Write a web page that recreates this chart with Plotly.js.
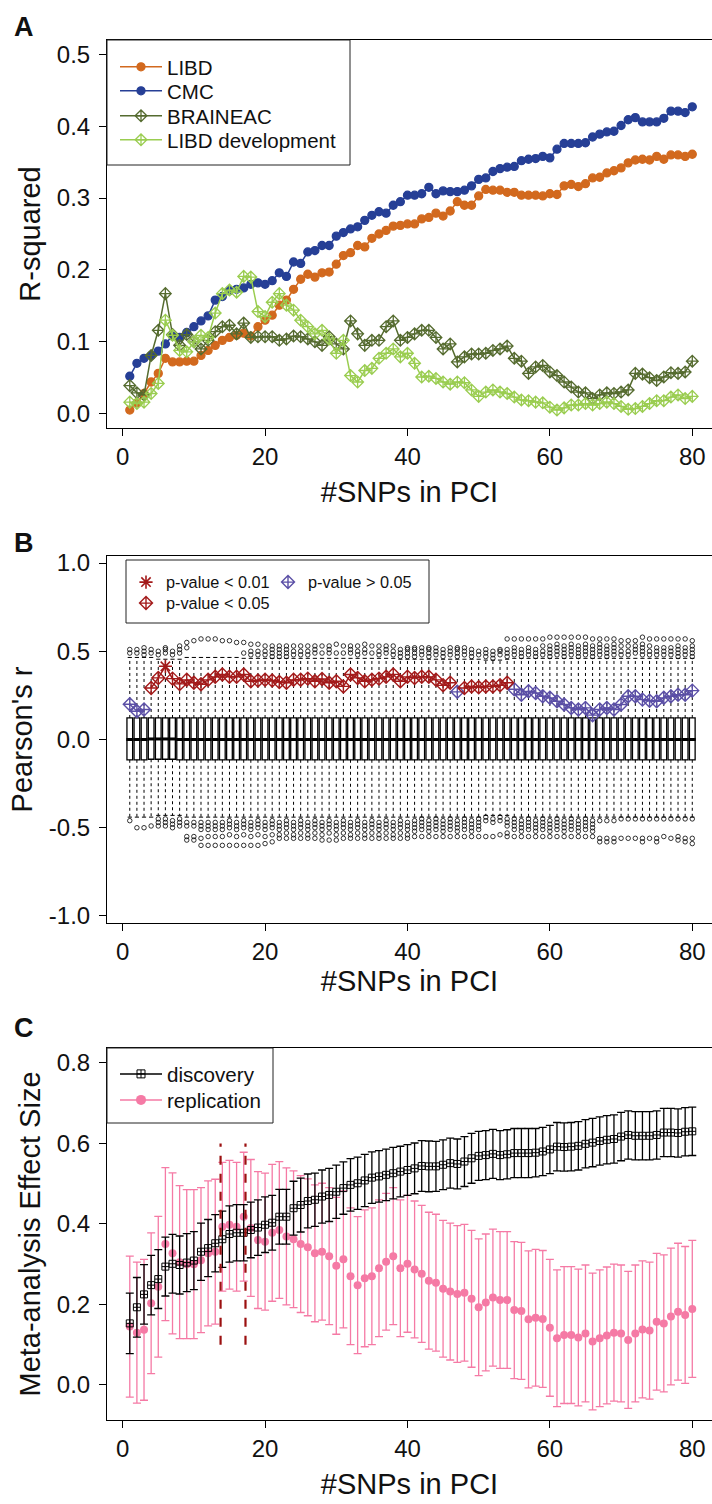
<!DOCTYPE html>
<html><head><meta charset="utf-8">
<script src="https://cdn.plot.ly/plotly-3.0.1.min.js"></script>
<style>html,body{margin:0;padding:0;background:#fff}</style>
</head><body><div id="chart" style="width:712px;height:1504px"></div>
<script>
// ---------- shared x categories ----------
const snps = [1,2,3,4,5,6,7,8,9,10,11,12,13,14,15,16,17,18,19,20,21,22,23,24,25,26,27,28,29,30,31,32,33,34,35,36,37,38,39,40,41,42,43,44,45,46,47,48,49,50,51,52,53,54,55,56,57,58,59,60,61,62,63,64,65,66,67,68,69,70,71,72,73,74,75,76,77,78,79,80];
const xTicks = [0,20,40,60,80];

// ---------- Panel A: R-squared ----------
const seriesNamesA = ["LIBD","CMC","BRAINEAC","LIBD development"];
const libd = [0.005,0.015,0.028,0.044,0.056,0.077,0.072,0.072,0.073,0.073,0.081,0.088,0.095,0.102,0.106,0.109,0.112,0.108,0.121,0.130,0.137,0.151,0.158,0.173,0.187,0.194,0.190,0.196,0.197,0.208,0.220,0.224,0.234,0.232,0.244,0.250,0.255,0.261,0.262,0.264,0.264,0.271,0.273,0.279,0.275,0.282,0.295,0.290,0.290,0.303,0.312,0.311,0.311,0.308,0.308,0.304,0.304,0.304,0.303,0.306,0.305,0.317,0.319,0.316,0.320,0.328,0.329,0.335,0.338,0.342,0.349,0.353,0.354,0.353,0.358,0.354,0.360,0.360,0.358,0.361];
const cmc = [0.052,0.070,0.077,0.081,0.087,0.097,0.108,0.106,0.113,0.121,0.129,0.136,0.158,0.163,0.171,0.173,0.175,0.180,0.182,0.180,0.185,0.196,0.191,0.211,0.209,0.225,0.227,0.234,0.234,0.247,0.252,0.257,0.260,0.269,0.276,0.281,0.279,0.290,0.295,0.304,0.304,0.306,0.315,0.306,0.310,0.309,0.309,0.311,0.317,0.326,0.328,0.337,0.341,0.343,0.344,0.352,0.354,0.355,0.358,0.356,0.368,0.376,0.376,0.376,0.377,0.385,0.389,0.392,0.393,0.401,0.409,0.412,0.406,0.406,0.406,0.411,0.421,0.421,0.419,0.427];
const braineac = [0.039,0.029,0.026,0.081,0.116,0.167,0.110,0.095,0.110,0.100,0.090,0.102,0.114,0.121,0.123,0.111,0.126,0.106,0.107,0.107,0.107,0.102,0.104,0.108,0.107,0.104,0.100,0.095,0.107,0.097,0.090,0.129,0.111,0.095,0.102,0.102,0.121,0.129,0.102,0.106,0.111,0.116,0.116,0.106,0.090,0.097,0.072,0.079,0.083,0.083,0.084,0.088,0.090,0.094,0.077,0.073,0.056,0.065,0.067,0.058,0.053,0.044,0.037,0.030,0.029,0.021,0.026,0.029,0.028,0.030,0.033,0.056,0.055,0.050,0.046,0.051,0.057,0.056,0.058,0.073];
const libdDev = [0.016,0.014,0.016,0.028,0.042,0.130,0.109,0.088,0.086,0.100,0.109,0.106,0.140,0.167,0.172,0.169,0.191,0.190,0.142,0.135,0.155,0.167,0.151,0.144,0.130,0.121,0.111,0.116,0.104,0.084,0.102,0.053,0.044,0.060,0.063,0.077,0.084,0.090,0.079,0.084,0.070,0.051,0.052,0.049,0.044,0.041,0.044,0.043,0.033,0.024,0.030,0.033,0.030,0.028,0.023,0.019,0.018,0.016,0.015,0.009,0.005,0.008,0.012,0.012,0.014,0.012,0.014,0.016,0.014,0.010,0.006,0.007,0.010,0.014,0.018,0.018,0.023,0.026,0.021,0.024];

// ---------- Panel B: Pearson's r ----------
const rObs = [0.200,0.160,0.170,0.292,0.349,0.415,0.345,0.315,0.338,0.322,0.313,0.338,0.355,0.368,0.355,0.355,0.368,0.330,0.334,0.338,0.334,0.326,0.322,0.338,0.338,0.345,0.330,0.343,0.322,0.330,0.301,0.368,0.349,0.330,0.338,0.345,0.355,0.369,0.330,0.355,0.349,0.355,0.355,0.338,0.307,0.322,0.270,0.292,0.301,0.296,0.301,0.301,0.307,0.322,0.285,0.254,0.273,0.264,0.245,0.236,0.217,0.198,0.179,0.170,0.179,0.138,0.170,0.179,0.170,0.198,0.245,0.245,0.226,0.220,0.217,0.236,0.245,0.254,0.254,0.277];
const sigClass = ["ns","ns","ns","p05","p05","p01","p05","p05","p05","p05","p05","p05","p05","p05","p05","p05","p05","p05","p05","p05","p05","p05","p05","p05","p05","p05","p05","p05","p05","p05","p05","p05","p05","p05","p05","p05","p05","p05","p05","p05","p05","p05","p05","p05","p05","p05","ns","p05","p05","p05","p05","p05","p05","p05","ns","ns","ns","ns","ns","ns","ns","ns","ns","ns","ns","ns","ns","ns","ns","ns","ns","ns","ns","ns","ns","ns","ns","ns","ns","ns"];
const sigLabels = {p01:"p-value < 0.01", ns:"p-value > 0.05", p05:"p-value < 0.05"};
const boxQ1 = [-0.115,-0.115,-0.115,-0.112,-0.112,-0.112,-0.112,-0.115,-0.115,-0.115,-0.115,-0.115,-0.115,-0.115,-0.115,-0.115,-0.115,-0.115,-0.115,-0.115,-0.115,-0.115,-0.115,-0.115,-0.115,-0.115,-0.115,-0.115,-0.115,-0.115,-0.115,-0.115,-0.115,-0.115,-0.115,-0.115,-0.115,-0.115,-0.115,-0.115,-0.115,-0.115,-0.115,-0.115,-0.115,-0.115,-0.115,-0.115,-0.115,-0.115,-0.115,-0.115,-0.115,-0.115,-0.115,-0.115,-0.115,-0.115,-0.115,-0.115,-0.115,-0.115,-0.115,-0.115,-0.115,-0.115,-0.115,-0.115,-0.115,-0.115,-0.115,-0.115,-0.115,-0.115,-0.115,-0.115,-0.115,-0.115,-0.115,-0.115];
const boxMed = [0.0,0.0,0.0,0.003,0.003,0.003,0.003,0.0,0.0,0.0,0.0,0.0,0.0,0.0,0.0,0.0,0.0,0.0,0.0,0.0,0.0,0.0,0.0,0.0,0.0,0.0,0.0,0.0,0.0,0.0,0.0,0.0,0.0,0.0,0.0,0.0,0.0,0.0,0.0,0.0,0.0,0.0,0.0,0.0,0.0,0.0,0.0,0.0,0.0,0.0,0.0,0.0,0.0,0.0,0.0,0.0,0.0,0.0,0.0,0.0,0.0,0.0,0.0,0.0,0.0,0.0,0.0,0.0,0.0,0.0,0.0,0.0,0.0,0.0,0.0,0.0,0.0,0.0,0.0,0.0];
const boxQ3 = [0.122,0.122,0.122,0.122,0.122,0.122,0.122,0.122,0.122,0.122,0.122,0.122,0.122,0.122,0.122,0.122,0.122,0.122,0.122,0.122,0.122,0.122,0.122,0.122,0.122,0.122,0.122,0.122,0.122,0.122,0.122,0.122,0.122,0.122,0.122,0.122,0.122,0.122,0.122,0.122,0.122,0.122,0.122,0.122,0.122,0.122,0.122,0.122,0.122,0.122,0.122,0.122,0.122,0.122,0.122,0.122,0.122,0.122,0.122,0.122,0.122,0.122,0.122,0.122,0.122,0.122,0.122,0.122,0.122,0.122,0.122,0.122,0.122,0.122,0.122,0.122,0.122,0.122,0.122,0.122];
const whiskHi = [0.465,0.465,0.465,0.465,0.455,0.455,0.455,0.455,0.465,0.465,0.465,0.465,0.465,0.465,0.465,0.465,0.46,0.46,0.46,0.46,0.46,0.46,0.46,0.46,0.46,0.46,0.46,0.46,0.46,0.46,0.46,0.46,0.46,0.46,0.46,0.46,0.46,0.46,0.455,0.455,0.455,0.455,0.455,0.455,0.455,0.455,0.455,0.455,0.455,0.455,0.45,0.45,0.45,0.455,0.46,0.46,0.46,0.46,0.46,0.46,0.46,0.46,0.46,0.46,0.46,0.46,0.46,0.46,0.46,0.46,0.46,0.46,0.46,0.46,0.46,0.46,0.46,0.46,0.46,0.46];
const whiskLo = [-0.44,-0.44,-0.44,-0.44,-0.43,-0.43,-0.43,-0.43,-0.44,-0.44,-0.44,-0.44,-0.44,-0.44,-0.44,-0.44,-0.44,-0.44,-0.44,-0.44,-0.44,-0.44,-0.44,-0.44,-0.44,-0.44,-0.44,-0.44,-0.44,-0.44,-0.44,-0.44,-0.44,-0.44,-0.44,-0.44,-0.44,-0.44,-0.44,-0.44,-0.44,-0.44,-0.44,-0.44,-0.44,-0.44,-0.44,-0.44,-0.44,-0.44,-0.43,-0.43,-0.43,-0.43,-0.44,-0.44,-0.44,-0.44,-0.44,-0.44,-0.44,-0.44,-0.44,-0.44,-0.44,-0.44,-0.44,-0.44,-0.44,-0.44,-0.44,-0.44,-0.44,-0.44,-0.44,-0.44,-0.44,-0.44,-0.44,-0.44];
const outHi = [[0.49,0.51],[0.49,0.51],[0.48,0.50,0.52],[0.49,0.51],[0.48,0.50],[0.49,0.51,0.52],[0.48,0.50],[0.49,0.51,0.53],[0.52,0.55],[0.56],
[0.57],[0.57],[0.57],[0.56],[0.56],[0.55],[0.49,0.55],[0.48,0.50,0.54],[0.48,0.50,0.54],[0.48,0.50,0.53],
[0.47,0.49,0.51,0.53],[0.47,0.49,0.51,0.53],[0.47,0.49,0.51,0.53],[0.48,0.50,0.53],[0.48,0.50,0.53],[0.48,0.50,0.53],[0.49,0.51,0.53],[0.49,0.53],[0.49,0.51,0.53],[0.49,0.54],
[0.49,0.53],[0.49,0.51,0.53],[0.48,0.50,0.53],[0.49,0.51,0.54],[0.49,0.53],[0.48,0.50,0.53],[0.49,0.51,0.53],[0.48,0.50,0.53],[0.47,0.49,0.51],[0.47,0.49,0.51,0.52],
[0.47,0.49,0.51,0.52],[0.48,0.50,0.52],[0.47,0.49,0.51,0.52],[0.48,0.50,0.52],[0.47,0.49,0.51],[0.48,0.50,0.52],[0.47,0.49,0.51,0.52],[0.48,0.50,0.52],[0.47,0.49,0.51],[0.48,0.50],
[0.47,0.49,0.51],[0.46,0.48,0.50],[0.48,0.50,0.51],[0.47,0.49,0.51,0.57],[0.48,0.50,0.52,0.57],[0.47,0.49,0.51,0.57],[0.48,0.50,0.52,0.57],[0.47,0.49,0.51,0.57],[0.48,0.50,0.53,0.57],[0.47,0.49,0.51,0.53,0.58],
[0.48,0.50,0.52,0.54,0.58],[0.47,0.49,0.51,0.53,0.58],[0.48,0.50,0.52,0.54,0.58],[0.47,0.49,0.51,0.53,0.58],[0.48,0.50,0.52,0.54,0.58],[0.47,0.49,0.51,0.53,0.57],[0.48,0.50,0.52,0.54,0.57],[0.47,0.49,0.51,0.53,0.57],[0.48,0.50,0.52,0.54,0.57],[0.48,0.50,0.53,0.56],
[0.48,0.50,0.53,0.56],[0.49,0.51,0.53,0.56],[0.48,0.50,0.52,0.54,0.58],[0.48,0.50,0.53,0.57],[0.48,0.50,0.52,0.57],[0.48,0.50,0.52,0.57],[0.48,0.50,0.52,0.57],[0.47,0.49,0.51,0.53,0.57],[0.48,0.50,0.52,0.57],[0.47,0.49,0.51,0.53,0.56]];
const outLo = [[-0.46],[-0.50],[-0.50],[-0.49],[-0.45,-0.47,-0.49],[-0.45,-0.47,-0.49],[-0.46,-0.48,-0.50],[-0.45,-0.47,-0.49],[-0.47,-0.49,-0.55,-0.57],[-0.47,-0.49,-0.55,-0.57],
[-0.47,-0.49,-0.51,-0.56,-0.60],[-0.47,-0.49,-0.51,-0.55,-0.60],[-0.47,-0.49,-0.51,-0.55,-0.60],[-0.47,-0.49,-0.51,-0.55,-0.60],[-0.46,-0.48,-0.50,-0.54,-0.60],[-0.47,-0.49,-0.51,-0.55,-0.60],[-0.46,-0.48,-0.50,-0.54,-0.60],[-0.47,-0.49,-0.51,-0.55,-0.60],[-0.46,-0.48,-0.50,-0.54,-0.60],[-0.47,-0.49,-0.51,-0.55,-0.59],
[-0.46,-0.48,-0.50,-0.54,-0.58],[-0.47,-0.49,-0.51,-0.54,-0.56],[-0.46,-0.48,-0.50,-0.53,-0.56],[-0.47,-0.49,-0.51,-0.54,-0.56],[-0.46,-0.48,-0.50,-0.53,-0.56],[-0.47,-0.49,-0.51,-0.54,-0.56],[-0.46,-0.48,-0.50,-0.53,-0.56],[-0.47,-0.49,-0.51,-0.54,-0.57],[-0.46,-0.48,-0.50,-0.53,-0.57],[-0.47,-0.49,-0.51,-0.54,-0.57],
[-0.46,-0.48,-0.50,-0.53,-0.56],[-0.47,-0.49,-0.51,-0.54,-0.56],[-0.46,-0.48,-0.50,-0.53,-0.56],[-0.47,-0.49,-0.51,-0.54,-0.56],[-0.46,-0.48,-0.50,-0.53,-0.56],[-0.47,-0.49,-0.51,-0.54,-0.56],[-0.46,-0.48,-0.50,-0.53,-0.56],[-0.47,-0.49,-0.51,-0.54,-0.56],[-0.46,-0.48,-0.50,-0.53,-0.56],[-0.47,-0.49,-0.51,-0.54,-0.56],
[-0.46,-0.48,-0.50,-0.52,-0.55],[-0.45,-0.47,-0.49,-0.51,-0.55],[-0.46,-0.48,-0.50,-0.52,-0.55],[-0.45,-0.47,-0.49,-0.51,-0.55],[-0.46,-0.48,-0.50,-0.52,-0.55],[-0.45,-0.47,-0.49,-0.51,-0.55],[-0.46,-0.48,-0.50,-0.52,-0.55],[-0.45,-0.47,-0.49,-0.51,-0.55],[-0.46,-0.48,-0.50,-0.52,-0.55],[-0.45,-0.47,-0.49,-0.51,-0.55],
[-0.44,-0.46,-0.55],[-0.45,-0.47,-0.55],[-0.44,-0.46,-0.54],[-0.45,-0.47,-0.49,-0.53,-0.55],[-0.45,-0.47,-0.49,-0.51,-0.55],[-0.46,-0.48,-0.50,-0.52,-0.55],[-0.45,-0.47,-0.49,-0.51,-0.55],[-0.46,-0.48,-0.50,-0.52,-0.55],[-0.45,-0.47,-0.49,-0.51,-0.55],[-0.46,-0.48,-0.50,-0.52,-0.55],
[-0.45,-0.47,-0.49,-0.51,-0.55],[-0.46,-0.48,-0.50,-0.52,-0.55],[-0.45,-0.47,-0.49,-0.51,-0.55],[-0.46,-0.48,-0.50,-0.52,-0.55],[-0.45,-0.47,-0.49,-0.51,-0.55],[-0.46,-0.48,-0.50,-0.52,-0.55],[-0.46,-0.56,-0.58],[-0.46,-0.56,-0.58],[-0.46,-0.56,-0.58],[-0.45,-0.56],
[-0.45,-0.56],[-0.45,-0.56],[-0.45,-0.56,-0.58],[-0.45,-0.56],[-0.45,-0.56,-0.58],[-0.45,-0.55],[-0.45,-0.56],[-0.45,-0.55,-0.57],[-0.45,-0.56,-0.58],[-0.45,-0.56,-0.59]];

// ---------- Panel C: Meta-analysis effect size ----------
const discovery = [0.153,0.193,0.225,0.248,0.263,0.294,0.301,0.298,0.304,0.309,0.331,0.340,0.352,0.362,0.375,0.378,0.378,0.385,0.391,0.398,0.403,0.418,0.418,0.439,0.447,0.457,0.460,0.468,0.472,0.480,0.489,0.497,0.501,0.508,0.515,0.518,0.522,0.526,0.530,0.534,0.538,0.544,0.543,0.543,0.547,0.551,0.549,0.555,0.563,0.569,0.571,0.574,0.571,0.573,0.576,0.576,0.576,0.577,0.580,0.585,0.592,0.591,0.592,0.594,0.599,0.602,0.606,0.609,0.611,0.617,0.621,0.619,0.619,0.619,0.621,0.627,0.627,0.626,0.629,0.630];
const discoveryCI = [0.075,0.074,0.074,0.074,0.073,0.073,0.073,0.072,0.072,0.072,0.071,0.071,0.071,0.070,0.070,0.070,0.070,0.069,0.069,0.069,0.068,0.068,0.068,0.067,0.067,0.067,0.066,0.066,0.066,0.066,0.065,0.065,0.065,0.065,0.064,0.064,0.064,0.064,0.063,0.063,0.063,0.063,0.063,0.062,0.062,0.062,0.062,0.062,0.062,0.061,0.061,0.061,0.061,0.061,0.061,0.061,0.061,0.060,0.060,0.060,0.060,0.060,0.060,0.060,0.060,0.060,0.060,0.060,0.060,0.060,0.060,0.060,0.060,0.060,0.060,0.060,0.060,0.060,0.060,0.060];
const replication = [0.145,0.130,0.137,0.203,0.244,0.350,0.327,0.305,0.300,0.300,0.310,0.327,0.331,0.393,0.398,0.393,0.418,0.390,0.360,0.356,0.378,0.385,0.369,0.362,0.350,0.342,0.327,0.331,0.320,0.296,0.312,0.270,0.248,0.265,0.270,0.290,0.306,0.320,0.290,0.301,0.287,0.276,0.259,0.254,0.239,0.232,0.226,0.229,0.214,0.193,0.205,0.217,0.211,0.211,0.186,0.184,0.163,0.167,0.164,0.142,0.116,0.124,0.124,0.118,0.128,0.108,0.116,0.123,0.130,0.128,0.112,0.128,0.138,0.135,0.157,0.153,0.170,0.182,0.174,0.189];
const replicationCI = [0.175,0.175,0.175,0.175,0.175,0.190,0.200,0.190,0.185,0.185,0.180,0.180,0.180,0.160,0.160,0.160,0.160,0.170,0.170,0.170,0.170,0.170,0.170,0.170,0.170,0.170,0.170,0.170,0.170,0.170,0.170,0.170,0.170,0.170,0.170,0.170,0.170,0.170,0.170,0.170,0.170,0.170,0.170,0.170,0.170,0.170,0.170,0.170,0.170,0.170,0.170,0.170,0.170,0.170,0.170,0.170,0.170,0.170,0.170,0.170,0.170,0.170,0.170,0.170,0.170,0.170,0.170,0.170,0.170,0.170,0.170,0.170,0.170,0.170,0.170,0.170,0.170,0.170,0.170,0.170];
const windowMarks = [13.75, 17.25];   // dashed reference lines
const windowSpan = [0.1, 0.6];

// ---------- geometry helpers (layout only) ----------
const W = 712, H = 1504;
const py = p => 1 - p / H;
const px = p => p / W;
const FONT = "Liberation Sans, Arial, Helvetica, sans-serif";

const colA = ["#D2691E", "#263F96", "#556B2F", "#9ACD50"];
const colRed = "#A31A1A", colBlue = "#5B4FA6", colPink = "#F57AA5";
const legA = ["legend","legend5","legend6","legend7"];

const traces = [];
// Panel A
[[libd,"circle",8],[cmc,"circle",8],[braineac,"diamond-cross-open",9],[libdDev,"diamond-cross-open",9]].forEach((s,i)=>{
  traces.push({x:snps, y:s[0], name:seriesNamesA[i], type:"scatter", mode:"lines+markers", xaxis:"x", yaxis:"y",
    line:{color:colA[i], width:1.5}, marker:{symbol:s[1], size:s[2], color:colA[i], line:{color:colA[i], width:1.3}},
    legend:legA[i]});
});

// Panel B: boxes
traces.push({type:"box", x:snps, q1:boxQ1, median:boxMed, q3:boxQ3, lowerfence:boxQ1, upperfence:boxQ3,
  xaxis:"x2", yaxis:"y2", width:0.8, fillcolor:"#ffffff", line:{color:"#000", width:1.3}, whiskerwidth:0,
  boxpoints:false, showlegend:false, hoverinfo:"skip"});
traces.push({type:"scatter", mode:"markers", x:snps, y:boxMed, xaxis:"x2", yaxis:"y2", showlegend:false, hoverinfo:"skip",
  marker:{symbol:"line-ew", size:5, color:"#000", line:{color:"#000", width:3}}});
const wx = [], wy = [];
snps.forEach((s,i)=>{ wx.push(s,s,null,s,s,null); wy.push(boxQ3[i],whiskHi[i],null,boxQ1[i],whiskLo[i],null); });
traces.push({type:"scatter", mode:"lines", x:wx, y:wy, xaxis:"x2", yaxis:"y2", showlegend:false, hoverinfo:"skip",
  line:{color:"#000", width:1, dash:"3px,3px"}});
traces.push({type:"scatter", mode:"markers", x:snps.concat(snps), y:whiskHi.concat(whiskLo), xaxis:"x2", yaxis:"y2", showlegend:false, hoverinfo:"skip",
  marker:{symbol:"line-ew", size:3, color:"#000", line:{color:"#000", width:1}}});
const ox = [], oy = [];
snps.forEach((s,i)=>{ outHi[i].concat(outLo[i]).forEach(v=>{ ox.push(s); oy.push(v); }); });
traces.push({type:"scatter", mode:"markers", x:ox, y:oy, xaxis:"x2", yaxis:"y2", showlegend:false, hoverinfo:"skip",
  marker:{symbol:"circle-open", size:4.5, color:"#000", line:{color:"#000", width:0.8}}});
const redY = rObs.map((v,i)=> sigClass[i]==="ns" ? null : v);
const blueY = rObs.map((v,i)=> sigClass[i]==="ns" ? v : null);
traces.push({type:"scatter", mode:"lines", x:snps, y:redY, xaxis:"x2", yaxis:"y2", showlegend:false, hoverinfo:"skip",
  line:{color:colRed, width:1.5}, connectgaps:false});
traces.push({type:"scatter", mode:"lines", x:snps, y:blueY, xaxis:"x2", yaxis:"y2", showlegend:false, hoverinfo:"skip",
  line:{color:colBlue, width:1.5}, connectgaps:false});
function sigPts(cls){ const xs=[],ys=[]; snps.forEach((s,i)=>{ if(sigClass[i]===cls){xs.push(s);ys.push(rObs[i]);} }); return [xs,ys]; }
const p01 = sigPts("p01"), pns = sigPts("ns"), p05 = sigPts("p05");
traces.push({type:"scatter", mode:"markers", x:p01[0], y:p01[1], name:sigLabels.p01, xaxis:"x2", yaxis:"y2", legend:"legend2",
  marker:{symbol:"asterisk-open", size:11, color:colRed, line:{color:colRed, width:1.6}}});
traces.push({type:"scatter", mode:"markers", x:pns[0], y:pns[1], name:sigLabels.ns, xaxis:"x2", yaxis:"y2", legend:"legend9",
  marker:{symbol:"diamond-cross-open", size:10, color:colBlue, line:{color:colBlue, width:1.4}}});
traces.push({type:"scatter", mode:"markers", x:p05[0], y:p05[1], name:sigLabels.p05, xaxis:"x2", yaxis:"y2", legend:"legend3",
  marker:{symbol:"diamond-cross-open", size:10, color:colRed, line:{color:colRed, width:1.4}}});

// Panel C
traces.push({type:"scatter", mode:"markers", x:snps, y:replication, xaxis:"x3", yaxis:"y3", showlegend:false,
  marker:{symbol:"circle", size:8, color:colPink},
  error_y:{type:"data", array:replicationCI, visible:true, color:colPink, thickness:1.3, width:4}});
traces.push({type:"scatter", mode:"markers", x:snps, y:discovery, xaxis:"x3", yaxis:"y3", showlegend:false,
  marker:{symbol:"square-cross-open", size:7, color:"#000", line:{color:"#000", width:1}},
  error_y:{type:"data", array:discoveryCI, visible:true, color:"#000", thickness:1.3, width:4}});
traces.push({type:"scatter", mode:"lines+markers", x:[null], y:[null], name:"discovery", xaxis:"x3", yaxis:"y3", legend:"legend4",
  line:{color:"#000", width:1.5}, marker:{symbol:"square-cross-open", size:8, color:"#000", line:{color:"#000", width:1}}});
traces.push({type:"scatter", mode:"lines+markers", x:[null], y:[null], name:"replication", xaxis:"x3", yaxis:"y3", legend:"legend8",
  line:{color:colPink, width:1.5}, marker:{symbol:"circle", size:10, color:colPink}});

const xBase = {range:[-2.2, 82.77], tickvals:xTicks, ticks:"outside", ticklen:7, tickwidth:1, tickcolor:"#000",
  showline:true, linecolor:"#000", linewidth:1, mirror:true, showgrid:false, zeroline:false, domain:[px(107),1],
  tickfont:{size:24, family:FONT, color:"#111"}, automargin:false,
  title:{text:"#SNPs in PCI", font:{size:29, family:FONT, color:"#111"}, standoff:12}};
const yBase = {ticks:"outside", ticklen:7, tickwidth:1, tickcolor:"#000", showline:true, linecolor:"#000", linewidth:1,
  mirror:true, showgrid:false, zeroline:false, tickfont:{size:24, family:FONT, color:"#111"}, automargin:false, ticklabelstandoff:4};
const yTitleFont = {size:29, family:FONT, color:"#111"};
function legendAt(xp, yp, fs, iw, extra){
  return Object.assign({x:px(xp), y:py(yp), xanchor:"left", yanchor:"top", bgcolor:"rgba(0,0,0,0)", borderwidth:0,
    font:{size:fs, family:FONT, color:"#111"}, itemwidth:iw}, extra||{});
}

const layout = {
  width:W, height:H, margin:{l:0,r:0,t:0,b:0}, paper_bgcolor:"#fff", plot_bgcolor:"#fff",
  font:{family:FONT, color:"#111"},
  xaxis: Object.assign({}, xBase, {anchor:"y"}),
  xaxis2: Object.assign({}, xBase, {anchor:"y2", title:{text:"#SNPs in PCI", font:{size:29, family:FONT, color:"#111"}, standoff:4}}),
  xaxis3: Object.assign({}, xBase, {anchor:"y3"}),
  yaxis: Object.assign({}, yBase, {anchor:"x", domain:[py(428), py(40)], range:[-0.02,0.52],
    tickvals:[0,0.1,0.2,0.3,0.4,0.5], ticktext:["0.0","0.1","0.2","0.3","0.4","0.5"],
    title:{text:"R-squared", font:yTitleFont, standoff:7}}),
  yaxis2: Object.assign({}, yBase, {anchor:"x2", domain:[py(923), py(556)], range:[-1.04,1.04],
    tickvals:[-1,-0.5,0,0.5,1], ticktext:["-1.0","-0.5","0.0","0.5","1.0"],
    title:{text:"Pearson's r", font:yTitleFont, standoff:7}}),
  yaxis3: Object.assign({}, yBase, {anchor:"x3", domain:[py(1420), py(1048)], range:[-0.087,0.837],
    tickvals:[0,0.2,0.4,0.6,0.8], ticktext:["0.0","0.2","0.4","0.6","0.8"],
    title:{text:"Meta-analysis Effect Size", font:yTitleFont, standoff:7}}),
  legend:  legendAt(115, 47, 20.5, 42),
  legend5: legendAt(115, 71, 20.5, 42),
  legend6: legendAt(115, 96, 20.5, 42),
  legend7: legendAt(115, 120, 20.5, 42),
  legend2: legendAt(126, 565, 16.3, 30),
  legend9: legendAt(268, 565, 16.3, 30),
  legend3: legendAt(126, 586, 16.3, 30),
  legend4: legendAt(115, 1054, 20.6, 42),
  legend8: legendAt(115, 1080, 20.6, 42),
  shapes:[
    {type:"rect", xref:"paper", yref:"paper", x0:px(107), x1:px(350), y0:py(165), y1:py(40), line:{color:"#222", width:1}},
    {type:"rect", xref:"paper", yref:"paper", x0:px(126), x1:px(429), y0:py(623), y1:py(560), line:{color:"#222", width:1}},
    {type:"rect", xref:"paper", yref:"paper", x0:px(107), x1:px(273), y0:py(1123), y1:py(1048), line:{color:"#222", width:1}}
  ].concat(windowMarks.map(v=>({type:"line", xref:"x3", yref:"y3", x0:v, x1:v, y0:windowSpan[0], y1:windowSpan[1],
    line:{color:"#9B1010", width:2.2, dash:"dash"}, layer:"above"}))),
  annotations:[
    {text:"<b>A</b>", xref:"paper", yref:"paper", x:px(24), y:py(27), xanchor:"center", yanchor:"middle", showarrow:false, font:{size:27, family:FONT, color:"#111"}},
    {text:"<b>B</b>", xref:"paper", yref:"paper", x:px(24), y:py(543), xanchor:"center", yanchor:"middle", showarrow:false, font:{size:27, family:FONT, color:"#111"}},
    {text:"<b>C</b>", xref:"paper", yref:"paper", x:px(24), y:py(1028), xanchor:"center", yanchor:"middle", showarrow:false, font:{size:27, family:FONT, color:"#111"}}
  ],
  showlegend:true
};
Plotly.newPlot("chart", traces, layout, {staticPlot:true, displayModeBar:false});
</script></body></html>
